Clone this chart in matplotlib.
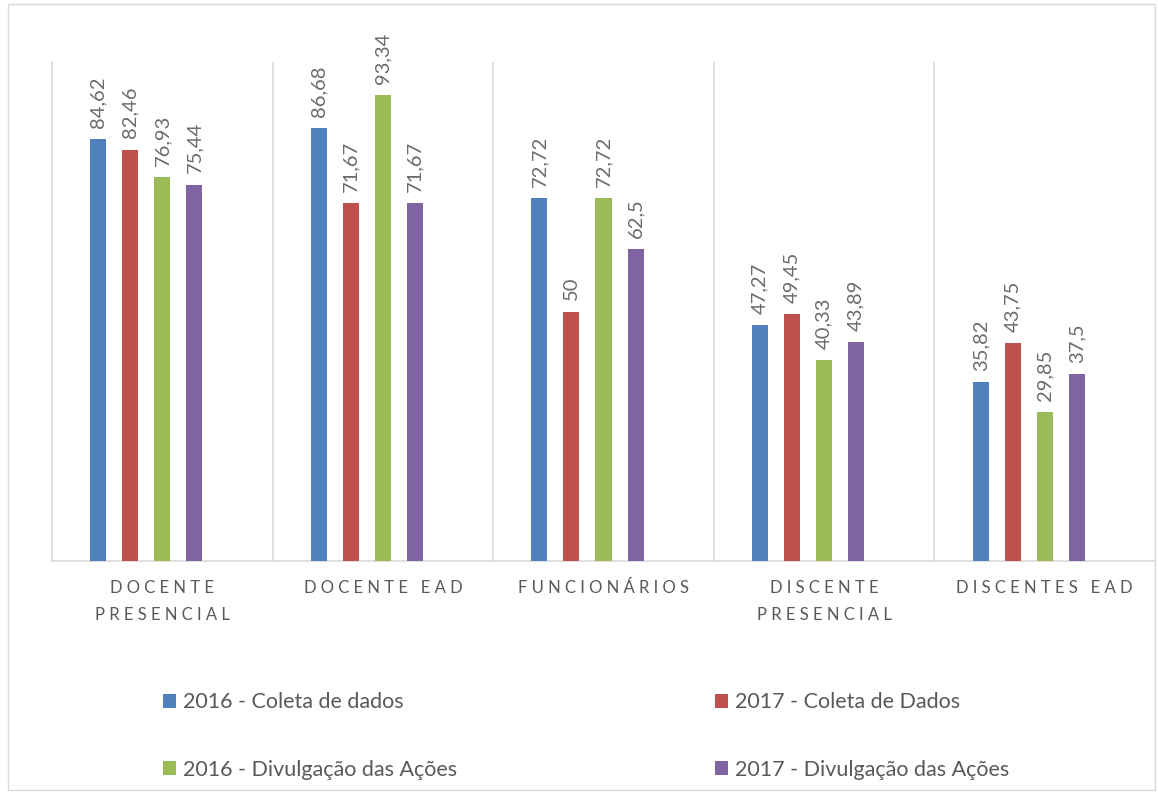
import matplotlib
matplotlib.use("Agg")
import matplotlib.pyplot as plt
from matplotlib.patches import Rectangle
import numpy as np

categories = ["DOCENTE\nPRESENCIAL", "DOCENTE EAD", "FUNCIONÁRIOS", "DISCENTE\nPRESENCIAL", "DISCENTES EAD"]
series_names = ["2016 - Coleta de dados", "2017 - Coleta de Dados",
                "2016 - Divulgação das Ações", "2017 - Divulgação das Ações"]
coleta_2016 = [84.62, 86.68, 72.72, 47.27, 35.82]
coleta_2017 = [82.46, 71.67, 50, 49.45, 43.75]
divulg_2016 = [76.93, 93.34, 72.72, 40.33, 29.85]
divulg_2017 = [75.44, 71.67, 62.5, 43.89, 37.5]
series = [coleta_2016, coleta_2017, divulg_2016, divulg_2017]
colors = ["#4F81BD", "#C0504D", "#9BBB59", "#8064A2"]

plt.rcParams['font.family'] = ['Lato', 'DejaVu Sans']

fig = plt.figure(figsize=(11.58, 7.94), dpi=100)
ax = fig.add_axes([52/1158, 1-561/794, 1103/1158, 499/794])

x = np.arange(len(categories))
step = 32/220.5
width = 16/220.5
offsets = [-2, -1, 0, 1]
handles = []
for vals, name, col, off in zip(series, series_names, colors, offsets):
    bars = ax.bar(x + off*step, vals, width=width, color=col, label=name, zorder=3)
    handles.append(bars)
    for b, v in zip(bars, vals):
        txt = f"{v:g}".replace('.', ',')
        ax.annotate(txt, (b.get_x() + b.get_width()/2, v), xytext=(0, 8),
                    textcoords='offset points', rotation=90, ha='center', va='bottom',
                    fontsize=14.5, color='#6b6b6b')

ax.set_xlim(-0.5, len(categories) - 0.5)
ax.set_ylim(0, 100)
ax.set_yticks([])
for b in np.arange(0.5, len(categories) - 0.5, 1):
    ax.axvline(b, color='#D9D9D9', lw=1.2, zorder=1)
for s in ['top', 'right']:
    ax.spines[s].set_visible(False)
ax.spines['left'].set_color('#D9D9D9')
ax.spines['bottom'].set_color('#D9D9D9')
ax.spines['left'].set_linewidth(1.2)
ax.spines['bottom'].set_linewidth(1.2)

def spaced(s):
    return "\n".join("   ".join(" ".join(w) for w in line.split(" ")) for line in s.split("\n"))

ax.set_xticks(x)
ax.set_xticklabels([spaced(c) for c in categories], fontsize=12, color='#595959', linespacing=1.85)
ax.tick_params(axis='x', length=0, pad=14)

order = [0, 2, 1, 3]
leg = fig.legend([handles[i] for i in order], [series_names[i] for i in order],
                 loc='upper left', bbox_to_anchor=(144/1158, 1-673/794), ncol=2,
                 frameon=False, fontsize=15.5, handlelength=0.6, handleheight=0.6,
                 handletextpad=0.3, columnspacing=12.0, labelspacing=2.2)
for t in leg.get_texts():
    t.set_color('#595959')

fig.patches.append(Rectangle((8/1158, 4/794), 1147/1158, 786/794, transform=fig.transFigure,
                             fill=False, edgecolor='#D9D9D9', lw=1))

fig.savefig("out.png", dpi=100)
